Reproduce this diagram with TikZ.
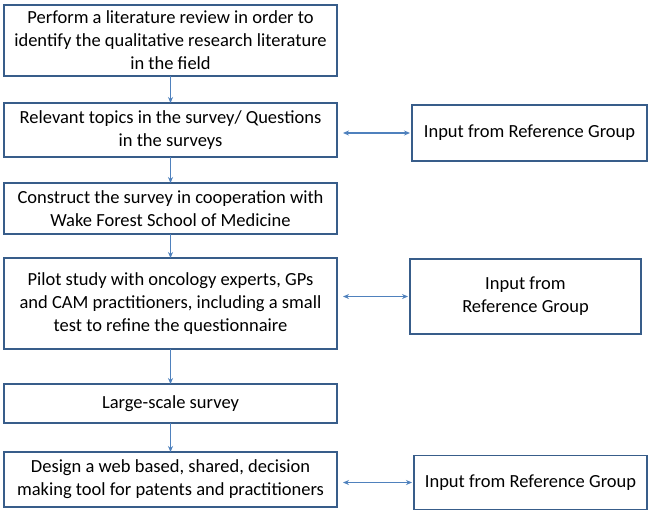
\documentclass[tikz,border=0pt]{standalone}
\usepackage{fontspec}
\setmainfont{Carlito}
\usetikzlibrary{%
  positioning,
  arrows.meta,
}
\definecolor{boxline}{HTML}{385D8A}
\definecolor{arrowline}{HTML}{4F81BD}

\begin{document}
\begin{tikzpicture}[%
           x=1pt, y=1pt,
           node distance=27pt and 75pt,
           stage/.style={
             % The shape:
             rectangle,
             % The size:
             minimum width=333pt,
             outer sep=0pt,
             % The border:
             line width=1.8pt,
             draw=boxline,
             % The text:
             align=center,
             inner sep=2pt,
             font=\fontsize{18.5}{23}\selectfont,
           },
           feedback/.style={
             stage,
             minimum width=235pt,
           },
           flow/.style={
             -{Stealth[length=6pt, width=5pt]},
             line width=1.2pt,
             color=arrowline,
           },
           exchange/.style={
             {Stealth[length=6pt, width=5pt]}-{Stealth[length=6pt, width=5pt]},
             shorten <=6pt,
             shorten >=2pt,
             line width=1.2pt,
             color=arrowline,
           }]

         \useasboundingbox (0,0) rectangle (650,-515);

         \node[stage, minimum height=71pt, anchor=north west] (review) at (4,-5)
           {Perform a literature review in order to\\identify the qualitative research literature\\in the field};
         \node[stage, minimum height=54pt] (topics) [below=27pt of review]
           {Relevant topics in the survey/ Questions\\in the surveys};
         \node[stage, minimum height=51pt] (construct) [below=26pt of topics]
           {Construct the survey in cooperation with\\Wake Forest School of Medicine};
         \node[stage, minimum height=91pt] (pilot) [below=24pt of construct]
           {Pilot study with oncology experts, GPs\\and CAM practitioners, including a small\\test to refine the questionnaire};
         \node[stage, minimum height=39pt] (large) [below=35pt of pilot]
           {Large-scale survey};
         \node[stage, minimum height=55pt] (design) [below=29pt of large]
           {Design a web based, shared, decision\\making tool for patents and practitioners};

         \node[feedback, minimum height=56pt] (inputA) [right=75pt of topics, yshift=-3pt]
           {Input from Reference Group};
         \node[feedback, minimum height=75pt, minimum width=231pt] (inputB) [right=73pt of pilot, yshift=7pt]
           {Input from\\Reference Group};
         \node[feedback, minimum height=54pt, minimum width=233pt] (inputC) [right=77pt of design, yshift=-3pt]
           {Input from Reference Group};

         \draw[flow] (review) -- (topics);
         \draw[flow] (topics) -- (construct);
         \draw[flow] (construct) -- (pilot);
         \draw[flow] (pilot) -- (large);
         \draw[flow] (large) -- (design);

         \draw[exchange] (inputA.west -| topics.east) -- (inputA.west);
         \draw[exchange] (inputB.west -| pilot.east) -- (inputB.west);
         \draw[exchange] (inputC.west -| design.east) -- (inputC.west);

     \end{tikzpicture}
\end{document}
